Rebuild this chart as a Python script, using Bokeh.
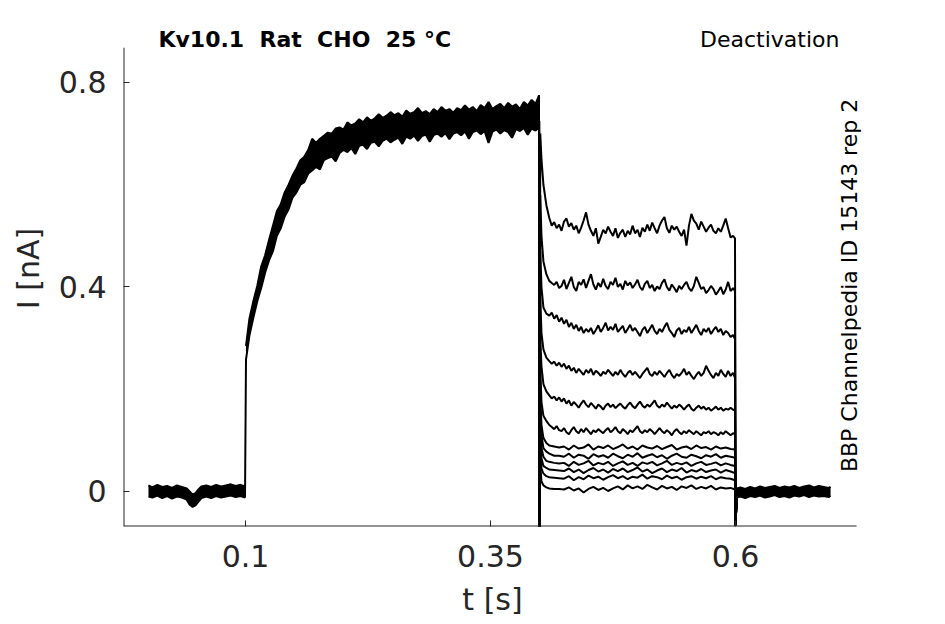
import math
from bokeh.plotting import figure
from bokeh.models import Range1d, FixedTicker, Label
from bokeh.embed import file_html
from bokeh.resources import INLINE

# ---------------- data ----------------
x_ticks = [0.1, 0.35, 0.6]
x_tick_labels = ["0.1", "0.35", "0.6"]
y_ticks = [0.0, 0.4, 0.8]
y_tick_labels = ["0", "0.4", "0.8"]
x_axis_end = 0.7235     # right end of the drawn time axis
y_axis_end = 0.868      # top end of the drawn current axis

# holding period before the pulse (all sweeps overlap -> band)
pre_t = [0.001, 0.005, 0.010, 0.015, 0.020, 0.025, 0.030, 0.035, 0.040, 0.043, 0.046, 0.049,
         0.052, 0.055, 0.060, 0.065, 0.070, 0.075, 0.080, 0.085, 0.090, 0.095, 0.0995]
pre_lo = [-0.010, -0.012, -0.008, -0.013, -0.009, -0.014, -0.010, -0.012, -0.016, -0.026, -0.030, -0.027,
          -0.020, -0.013, -0.010, -0.013, -0.009, -0.012, -0.010, -0.008, -0.011, -0.009, -0.012]
pre_hi = [0.012, 0.008, 0.013, 0.009, 0.011, 0.007, 0.012, 0.009, 0.006, 0.000, -0.006, -0.003,
          0.004, 0.010, 0.012, 0.009, 0.013, 0.010, 0.012, 0.014, 0.011, 0.013, 0.010]

# activating pulse (all sweeps overlap -> band)
act_t = [0.1005, 0.104, 0.108, 0.112, 0.116, 0.120, 0.124, 0.128, 0.132, 0.136, 0.140, 0.144,
         0.148, 0.152, 0.156, 0.160, 0.164, 0.168, 0.172, 0.176, 0.180, 0.184, 0.188, 0.192,
         0.196, 0.200, 0.204, 0.208, 0.212, 0.216, 0.220, 0.224, 0.228, 0.232, 0.236, 0.240,
         0.244, 0.248, 0.252, 0.256, 0.260, 0.264, 0.268, 0.272, 0.276, 0.280, 0.284, 0.288,
         0.292, 0.296, 0.300, 0.304, 0.308, 0.312, 0.316, 0.320, 0.324, 0.328, 0.332, 0.336,
         0.340, 0.344, 0.348, 0.352, 0.356, 0.360, 0.364, 0.368, 0.372, 0.376, 0.380, 0.384,
         0.388, 0.392, 0.396, 0.3995]
act_lo = [0.258, 0.305, 0.340, 0.372, 0.398, 0.428, 0.452, 0.470, 0.500, 0.515, 0.538, 0.552,
          0.575, 0.585, 0.600, 0.605, 0.622, 0.628, 0.635, 0.630, 0.648, 0.652, 0.655, 0.646,
          0.662, 0.668, 0.664, 0.672, 0.660, 0.676, 0.678, 0.670, 0.682, 0.684, 0.675, 0.686,
          0.690, 0.683, 0.688, 0.692, 0.680, 0.694, 0.690, 0.696, 0.686, 0.695, 0.698, 0.684,
          0.697, 0.700, 0.694, 0.701, 0.689, 0.700, 0.703, 0.697, 0.704, 0.690, 0.703, 0.706,
          0.699, 0.705, 0.682, 0.704, 0.708, 0.700, 0.707, 0.703, 0.692, 0.709, 0.705, 0.711,
          0.698, 0.710, 0.706, 0.712]
act_hi = [0.285, 0.338, 0.372, 0.402, 0.440, 0.462, 0.492, 0.520, 0.548, 0.562, 0.585, 0.600,
          0.618, 0.632, 0.648, 0.655, 0.668, 0.690, 0.682, 0.690, 0.696, 0.702, 0.700, 0.710,
          0.712, 0.708, 0.722, 0.716, 0.720, 0.728, 0.722, 0.732, 0.725, 0.730, 0.738, 0.731,
          0.735, 0.742, 0.736, 0.740, 0.733, 0.745, 0.739, 0.742, 0.750, 0.740, 0.744, 0.738,
          0.748, 0.742, 0.752, 0.745, 0.748, 0.741, 0.750, 0.746, 0.755, 0.747, 0.752, 0.744,
          0.756, 0.750, 0.762, 0.748, 0.754, 0.758, 0.750, 0.760, 0.753, 0.757, 0.748, 0.762,
          0.755, 0.766, 0.758, 0.775]

# transient minima at the voltage steps (clipped by the axis at 0.4 s)
step_on_t = 0.4
step_on_dip = -0.09
step_off_t = 0.6
step_off_dip = -0.066

# deactivation sweeps, large tail currents (finely read): tail + steady level
de_t_fine = [0.4008, 0.402, 0.404, 0.407, 0.410, 0.4125, 0.415, 0.4175, 0.420,
             0.4225, 0.425, 0.4275, 0.430, 0.4325, 0.435, 0.4375, 0.440, 0.4425, 0.445,
             0.4475, 0.450, 0.4525, 0.455, 0.4575, 0.460, 0.4625, 0.465, 0.4675, 0.470,
             0.4725, 0.475, 0.4775, 0.480, 0.4825, 0.485, 0.4875, 0.490, 0.4925, 0.495,
             0.4975, 0.500, 0.5025, 0.505, 0.5075, 0.510, 0.5125, 0.515, 0.5175, 0.520,
             0.5225, 0.525, 0.5275, 0.530, 0.5325, 0.535, 0.5375, 0.540, 0.5425, 0.545,
             0.5475, 0.550, 0.5525, 0.555, 0.5575, 0.560, 0.5625, 0.565, 0.5675, 0.570,
             0.5725, 0.575, 0.5775, 0.580, 0.5825, 0.585, 0.5875, 0.590, 0.5925, 0.595,
             0.5975, 0.5995]
sweep_01 = [0.70, 0.65, 0.60, 0.56, 0.535, 0.52, 0.527, 0.515, 0.522,
            0.510, 0.528, 0.534, 0.518, 0.525, 0.512, 0.520, 0.505, 0.516, 0.530,
            0.546, 0.522, 0.510, 0.500, 0.515, 0.485, 0.498, 0.512, 0.505, 0.518,
            0.508, 0.500, 0.515, 0.496, 0.506, 0.512, 0.498, 0.510, 0.503, 0.520,
            0.505, 0.512, 0.498, 0.516, 0.508, 0.522, 0.510, 0.526, 0.515, 0.505,
            0.520, 0.530, 0.537, 0.515, 0.506, 0.520, 0.512, 0.518, 0.508, 0.500,
            0.512, 0.481, 0.520, 0.543, 0.530, 0.524, 0.512, 0.528, 0.518, 0.508,
            0.516, 0.522, 0.510, 0.505, 0.515, 0.508, 0.520, 0.534, 0.515, 0.497,
            0.500, 0.495]
sweep_02 = [0.58, 0.50, 0.45, 0.425, 0.412, 0.408, 0.404, 0.410, 0.398,
            0.402, 0.414, 0.396, 0.408, 0.420, 0.400, 0.392, 0.410, 0.404, 0.415,
            0.398, 0.412, 0.425, 0.405, 0.395, 0.408, 0.400, 0.416, 0.402, 0.396,
            0.410, 0.404, 0.418, 0.400, 0.406, 0.395, 0.412, 0.403, 0.409, 0.398,
            0.405, 0.414, 0.400, 0.394, 0.406, 0.412, 0.398, 0.404, 0.392, 0.401,
            0.396, 0.408, 0.415, 0.400, 0.393, 0.405, 0.398, 0.390, 0.402, 0.396,
            0.404, 0.410, 0.398, 0.392, 0.402, 0.420, 0.408, 0.396, 0.400, 0.388,
            0.394, 0.402, 0.396, 0.385, 0.392, 0.400, 0.386, 0.395, 0.410, 0.392,
            0.398, 0.392]
sweep_03 = [0.47, 0.40, 0.36, 0.348, 0.344, 0.35, 0.338, 0.345, 0.332,
            0.340, 0.328, 0.336, 0.322, 0.330, 0.318, 0.326, 0.314, 0.322, 0.310,
            0.318, 0.312, 0.320, 0.308, 0.316, 0.325, 0.312, 0.320, 0.330, 0.315,
            0.322, 0.316, 0.328, 0.312, 0.318, 0.324, 0.310, 0.318, 0.326, 0.314,
            0.320, 0.312, 0.304, 0.316, 0.322, 0.310, 0.318, 0.326, 0.314, 0.308,
            0.318, 0.312, 0.322, 0.330, 0.316, 0.310, 0.302, 0.315, 0.320, 0.308,
            0.316, 0.312, 0.322, 0.310, 0.318, 0.326, 0.314, 0.306, 0.318, 0.312,
            0.320, 0.308, 0.316, 0.322, 0.312, 0.318, 0.306, 0.314, 0.310, 0.302,
            0.306, 0.298]
sweep_04 = [0.38, 0.31, 0.278, 0.262, 0.255, 0.25, 0.254, 0.246, 0.252,
            0.244, 0.250, 0.240, 0.246, 0.236, 0.242, 0.232, 0.240, 0.234, 0.228,
            0.238, 0.232, 0.240, 0.228, 0.236, 0.232, 0.226, 0.234, 0.230, 0.238,
            0.232, 0.226, 0.234, 0.228, 0.238, 0.230, 0.224, 0.232, 0.236, 0.228,
            0.234, 0.228, 0.222, 0.230, 0.236, 0.242, 0.230, 0.226, 0.234, 0.228,
            0.236, 0.230, 0.224, 0.232, 0.238, 0.228, 0.222, 0.230, 0.226, 0.232,
            0.240, 0.228, 0.234, 0.226, 0.220, 0.228, 0.234, 0.226, 0.232, 0.246,
            0.236, 0.228, 0.222, 0.232, 0.226, 0.238, 0.230, 0.224, 0.236, 0.226,
            0.232, 0.222]
sweep_05 = [0.30, 0.245, 0.21, 0.196, 0.188, 0.182, 0.186, 0.178, 0.184,
            0.176, 0.182, 0.172, 0.178, 0.168, 0.175, 0.170, 0.164, 0.172, 0.178,
            0.170, 0.165, 0.173, 0.168, 0.162, 0.170, 0.166, 0.160, 0.168, 0.172,
            0.165, 0.170, 0.163, 0.168, 0.172, 0.166, 0.162, 0.169, 0.174, 0.167,
            0.163, 0.170, 0.176, 0.168, 0.164, 0.170, 0.166, 0.172, 0.178, 0.168,
            0.164, 0.170, 0.166, 0.174, 0.168, 0.162, 0.168, 0.164, 0.170, 0.166,
            0.160, 0.166, 0.170, 0.162, 0.158, 0.164, 0.168, 0.162, 0.166, 0.160,
            0.164, 0.158, 0.162, 0.166, 0.160, 0.164, 0.158, 0.162, 0.160, 0.164,
            0.160, 0.158]
sweep_06 = [0.24, 0.175, 0.148, 0.138, 0.13, 0.126, 0.122, 0.128, 0.12,
            0.118, 0.124, 0.116, 0.112, 0.120, 0.126, 0.118, 0.114, 0.122, 0.116,
            0.124, 0.118, 0.112, 0.120, 0.116, 0.122, 0.118, 0.114, 0.120, 0.124,
            0.116, 0.120, 0.126, 0.118, 0.114, 0.122, 0.118, 0.112, 0.120, 0.116,
            0.122, 0.128, 0.118, 0.114, 0.120, 0.116, 0.122, 0.118, 0.112, 0.118,
            0.124, 0.118, 0.114, 0.120, 0.116, 0.110, 0.118, 0.122, 0.116, 0.112,
            0.118, 0.114, 0.120, 0.116, 0.112, 0.118, 0.114, 0.110, 0.116, 0.114,
            0.118, 0.112, 0.116, 0.114, 0.110, 0.116, 0.112, 0.118, 0.114, 0.110,
            0.114, 0.112]

# deactivation sweeps, small tail currents: tail + steady level
de_t = [0.4008, 0.402, 0.404, 0.407, 0.410, 0.415, 0.420,
        0.425, 0.430, 0.435, 0.440, 0.445, 0.450, 0.455, 0.460, 0.465, 0.470, 0.475, 0.480,
        0.485, 0.490, 0.495, 0.500, 0.505, 0.510, 0.515, 0.520, 0.525, 0.530, 0.535, 0.540,
        0.545, 0.550, 0.555, 0.560, 0.565, 0.570, 0.575, 0.580, 0.585, 0.590, 0.595, 0.5995]
sweep_07 = [0.19, 0.13, 0.105, 0.095, 0.09, 0.088, 0.086,
            0.088, 0.082, 0.090, 0.084, 0.086, 0.092, 0.082, 0.088, 0.085, 0.090, 0.083, 0.087,
            0.092, 0.084, 0.088, 0.082, 0.090, 0.086, 0.084, 0.089, 0.083, 0.087, 0.091, 0.082,
            0.086, 0.088, 0.083, 0.090, 0.085, 0.087, 0.082, 0.088, 0.084, 0.086, 0.083, 0.082]
sweep_08 = [0.16, 0.11, 0.085, 0.078, 0.074, 0.07, 0.07,
            0.068, 0.074, 0.066, 0.072, 0.070, 0.064, 0.073, 0.068, 0.071, 0.066, 0.074, 0.069,
            0.065, 0.072, 0.068, 0.075, 0.066, 0.070, 0.073, 0.067, 0.071, 0.064, 0.070, 0.074,
            0.068, 0.066, 0.072, 0.069, 0.065, 0.071, 0.068, 0.073, 0.066, 0.070, 0.068, 0.066]
sweep_09 = [0.13, 0.085, 0.068, 0.06, 0.058, 0.056, 0.055,
            0.056, 0.050, 0.058, 0.052, 0.055, 0.060, 0.051, 0.056, 0.053, 0.058, 0.050, 0.055,
            0.059, 0.052, 0.056, 0.050, 0.057, 0.054, 0.058, 0.051, 0.055, 0.060, 0.052, 0.056,
            0.053, 0.057, 0.050, 0.055, 0.058, 0.052, 0.054, 0.057, 0.051, 0.055, 0.052, 0.050]
sweep_10 = [0.10, 0.065, 0.05, 0.046, 0.043, 0.042, 0.041,
            0.040, 0.045, 0.038, 0.043, 0.036, 0.042, 0.046, 0.039, 0.043, 0.037, 0.044, 0.040,
            0.045, 0.038, 0.042, 0.047, 0.039, 0.043, 0.036, 0.041, 0.045, 0.038, 0.043, 0.040,
            0.046, 0.037, 0.042, 0.039, 0.044, 0.038, 0.041, 0.043, 0.037, 0.042, 0.039, 0.036]
sweep_11 = [0.08, 0.045, 0.035, 0.03, 0.028, 0.027, 0.026,
            0.025, 0.030, 0.022, 0.028, 0.024, 0.031, 0.026, 0.029, 0.023, 0.028, 0.032, 0.026,
            0.030, 0.024, 0.029, 0.027, 0.033, 0.025, 0.030, 0.028, 0.024, 0.031, 0.026, 0.029,
            0.023, 0.028, 0.030, 0.025, 0.029, 0.026, 0.030, 0.024, 0.028, 0.026, 0.025, 0.022]
sweep_12 = [0.05, 0.02, 0.012, 0.008, 0.006, 0.005, 0.005,
            0.004, 0.008, 0.002, 0.006, -0.002, 0.005, 0.009, 0.003, 0.007, 0.001, 0.006, 0.010,
            0.004, 0.012, 0.006, 0.010, 0.005, 0.013, 0.008, 0.004, 0.011, 0.006, 0.009, 0.003,
            0.010, 0.007, 0.012, 0.005, 0.009, 0.006, 0.011, 0.004, 0.008, 0.006, 0.007, 0.004]
fine_sweeps = [sweep_01, sweep_02, sweep_03, sweep_04, sweep_05, sweep_06]
coarse_sweeps = [sweep_07, sweep_08, sweep_09, sweep_10, sweep_11, sweep_12]

# return to holding (all sweeps overlap -> band)
post_t = [0.6012, 0.605, 0.610, 0.615, 0.620, 0.625, 0.630, 0.635, 0.640, 0.645, 0.650,
          0.655, 0.660, 0.665, 0.670, 0.675, 0.680, 0.685, 0.690, 0.695, 0.697]
post_lo = [-0.012, -0.010, -0.013, -0.009, -0.011, -0.008, -0.012, -0.010, -0.007, -0.011, -0.009,
           -0.012, -0.008, -0.010, -0.007, -0.011, -0.008, -0.010, -0.009, -0.011, -0.008]
post_hi = [0.006, 0.008, 0.005, 0.009, 0.006, 0.010, 0.007, 0.009, 0.011, 0.007, 0.010,
           0.008, 0.011, 0.007, 0.010, 0.012, 0.008, 0.011, 0.009, 0.007, 0.009]

title_text = "Kv10.1 \u00a0Rat \u00a0CHO \u00a025 °C"
protocol_text = "Deactivation"
source_text = "BBP Channelpedia ID 15143 rep 2"

# ---------------- figure ----------------
AX = "#262626"
X0, X1 = -0.02449, 0.72857
Y0, Y1 = -0.06846, 0.94083
p = figure(width=920, height=624,
           x_range=Range1d(X0, X1), y_range=Range1d(Y0, Y1),
           output_backend="svg", toolbar_location=None,
           min_border_left=123, min_border_right=59, min_border_top=10, min_border_bottom=98)
p.outline_line_color = None
p.grid.visible = False
p.background_fill_color = "white"

LW = 2
# holding band and pulse band
p.varea(x=pre_t, y1=pre_lo, y2=pre_hi, fill_color="black")
p.line(pre_t, pre_lo, line_color="black", line_width=LW)
p.line(pre_t, pre_hi, line_color="black", line_width=LW)
p.varea(x=act_t, y1=act_lo, y2=act_hi, fill_color="black")
p.line([pre_t[-1]] + act_t, [pre_lo[-1]] + act_lo, line_color="black", line_width=LW)
p.line(act_t, act_hi, line_color="black", line_width=LW)
p.varea(x=post_t, y1=post_lo, y2=post_hi, fill_color="black")
p.line(post_t, post_lo, line_color="black", line_width=LW)
p.line(post_t, post_hi, line_color="black", line_width=LW)

xs, ys = [], []
for grid, group in ((de_t_fine, fine_sweeps), (de_t, coarse_sweeps)):
    for s in group:
        xs.append([act_t[-1], step_on_t] + grid + [step_off_t, post_t[0]])
        ys.append([act_hi[-1], step_on_dip] + s + [step_off_dip, post_lo[0]])
p.multi_line(xs, ys, line_color="black", line_width=LW)

# open box axes (drawn to their own extent)
p.segment(x0=[X0, X0], y0=[Y0, Y0], x1=[X0, x_axis_end], y1=[y_axis_end, Y0],
          line_color=AX, line_width=2)

for ax in (p.xaxis[0], p.yaxis[0]):
    ax.axis_line_color = None
    ax.major_tick_line_color = AX
    ax.major_tick_in = 6
    ax.major_tick_out = 0
    ax.minor_tick_line_color = None
    ax.major_label_text_font = "DejaVu Sans"
    ax.major_label_text_font_size = "30px"
    ax.major_label_text_color = AX
    ax.axis_label_text_font = "DejaVu Sans"
    ax.axis_label_text_font_size = "30px"
    ax.axis_label_text_font_style = "normal"
    ax.axis_label_text_color = AX

p.xaxis.ticker = FixedTicker(ticks=x_ticks)
p.xaxis.major_label_overrides = {t: l for t, l in zip(x_ticks, x_tick_labels)}
p.yaxis.ticker = FixedTicker(ticks=y_ticks)
p.yaxis.major_label_overrides = {t: l for t, l in zip(y_ticks, y_tick_labels)}
p.xaxis.axis_label = "t [s]"
p.yaxis.axis_label = "I [nA]"
p.xaxis.major_label_standoff = 18
p.xaxis.axis_label_standoff = 12
p.yaxis.major_label_standoff = 17
p.yaxis.axis_label_standoff = 10

p.add_layout(Label(x=0.0112, y=0.8841, text=title_text,
                   text_font="DejaVu Sans", text_font_style="bold", text_font_size="22px",
                   text_color="black", text_align="left", text_baseline="middle"))
p.add_layout(Label(x=0.7061, y=0.8841, text=protocol_text,
                   text_font="DejaVu Sans", text_font_size="22px",
                   text_color="black", text_align="right", text_baseline="middle"))
p.add_layout(Label(x=0.7163, y=0.403, text=source_text, angle=math.pi / 2,
                   text_font="DejaVu Sans", text_font_size="22px",
                   text_color="black", text_align="center", text_baseline="middle"))

open("out.html", "w").write(file_html(p, INLINE))
